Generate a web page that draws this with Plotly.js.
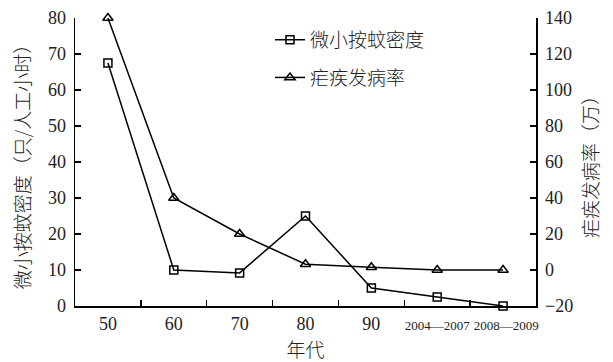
<!DOCTYPE html>
<html>
<head>
<meta charset="utf-8">
<script src="https://cdn.plot.ly/plotly-3.0.1.min.js"></script>
<style>html,body{margin:0;padding:0;background:#fff;}#chart{width:613px;height:362px;}</style>
</head>
<body>
<div id="chart"></div>
<script>
const categories = ['50', '60', '70', '80', '90', '2004—2007', '2008—2009'];
const tickLabels = ['50', '60', '70', '80', '90',
  '<span style="font-size:13px">2004—2007</span>',
  '<span style="font-size:13px">\u00a0\u00a02008—2009</span>'];
const densityName = '微小按蚊密度';
const densityValues = [67.5, 10, 9.2, 25, 5, 2.5, 0];
const malariaName = '疟疾发病率';
const malariaValues = [140, 40, 20, 3.2, 1.5, 0, 0];

const FONT = 'Liberation Serif';
const CJK = 'Noto Sans CJK SC';

const traces = [
  {
    x: categories, y: densityValues, name: densityName, type: 'scatter', mode: 'lines+markers',
    line: {color: '#000', width: 1.5},
    marker: {symbol: 'square-open', size: 8, color: '#000', line: {width: 1.5}},
    yaxis: 'y', cliponaxis: false, legendgroup: 'a'
  },
  {
    x: categories, y: malariaValues, name: malariaName, type: 'scatter', mode: 'lines+markers',
    line: {color: '#000', width: 1.5},
    marker: {symbol: 'triangle-up-open', size: 9, color: '#000', line: {width: 1.5}},
    yaxis: 'y2', cliponaxis: false, legendgroup: 'b'
  }
];

const layout = {
  width: 613, height: 362,
  margin: {l: 75, r: 77, t: 18, b: 56},
  paper_bgcolor: '#fff', plot_bgcolor: '#fff',
  font: {family: FONT, size: 18, color: '#222'},
  showlegend: true,
  legend: {
    x: 0.423, y: 0.99, xanchor: 'left', yanchor: 'top',
    font: {family: CJK, size: 19, color: '#222', weight: 300},
    bgcolor: 'rgba(0,0,0,0)', tracegroupgap: 10
  },
  xaxis: {
    type: 'category', range: [-0.5, 6.5],
    tickvals: categories, ticktext: tickLabels, tickangle: 0,
    showline: true, linecolor: '#000', linewidth: 1.5,
    ticks: 'inside', tickson: 'boundaries', ticklen: 6, tickwidth: 1.5, tickcolor: '#000',
    showgrid: false, zeroline: false, ticklabelstandoff: 1,
    tickfont: {family: FONT, size: 18, color: '#222'},
    title: {text: '年代', font: {family: CJK, size: 19, color: '#222', weight: 300}, standoff: 11}
  },
  yaxis: {
    range: [0, 80], dtick: 10, tick0: 0,
    showline: true, linecolor: '#000', linewidth: 1.5,
    ticks: 'inside', ticklen: 6, tickwidth: 1.5, tickcolor: '#000',
    showgrid: false, zeroline: false, ticklabelstandoff: 4,
    tickfont: {family: FONT, size: 18, color: '#222'},
    title: {text: '微小按蚊密度（只/人工小时）', font: {family: CJK, size: 19, color: '#222', weight: 300}, standoff: 12}
  },
  yaxis2: {
    overlaying: 'y', side: 'right', range: [-20, 140], dtick: 20, tick0: 0,
    showline: true, linecolor: '#000', linewidth: 1.5,
    ticks: 'inside', ticklen: 6, tickwidth: 1.5, tickcolor: '#000',
    showgrid: false, zeroline: false, ticklabelstandoff: 4,
    tickfont: {family: FONT, size: 18, color: '#222'},
    tickformat: 'd',
    title: {text: '疟疾发病率（万）', font: {family: CJK, size: 19, color: '#222', weight: 300}, standoff: 12}
  }
};

Plotly.newPlot('chart', traces, layout, {displayModeBar: false, staticPlot: true});
</script>
</body>
</html>
